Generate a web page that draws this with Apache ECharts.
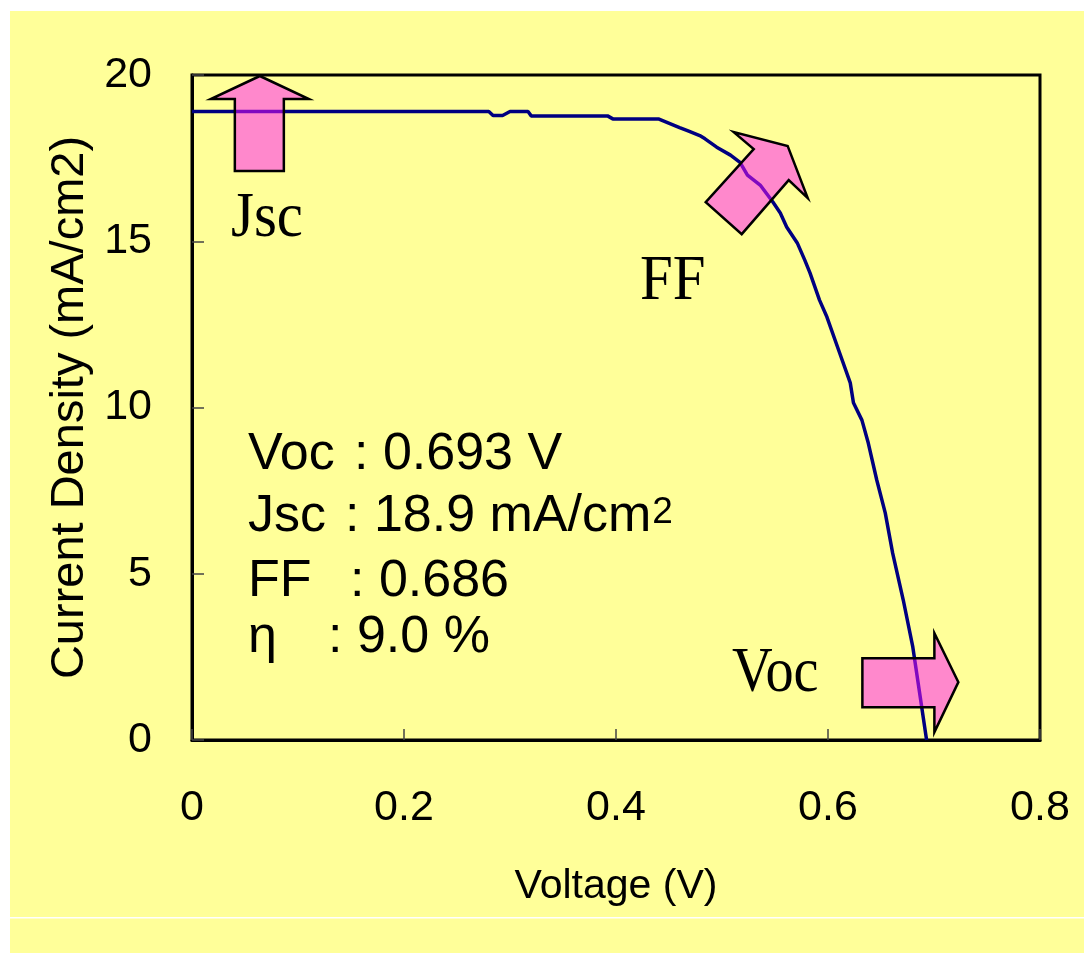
<!DOCTYPE html>
<html>
<head>
<meta charset="utf-8">
<script src="https://cdn.jsdelivr.net/npm/echarts@6/dist/echarts.min.js"></script>
<style>
  html, body { margin: 0; padding: 0; background: #ffffff; }
  #chart { width: 1084px; height: 953px; }
</style>
</head>
<body>
<div id="chart"></div>
<script>
// J-V curve of the solar cell (voltage in V, current density in mA/cm2)
const voltage = [0.000, 0.280, 0.284, 0.293, 0.300, 0.317, 0.320, 0.392, 0.397, 0.440, 0.460, 0.468, 0.479, 0.484, 0.495,
                 0.508, 0.517, 0.524, 0.536, 0.548, 0.555, 0.561, 0.571, 0.578, 0.583, 0.592, 0.599, 0.611, 0.621,
                 0.624, 0.632, 0.638, 0.646, 0.654, 0.661, 0.671, 0.680, 0.687, 0.693];
const currentDensity = [18.9, 18.9, 18.78, 18.78, 18.9, 18.9, 18.77, 18.77, 18.68, 18.68, 18.42, 18.32, 18.18, 18.08, 17.83,
                        17.59, 17.37, 16.99, 16.69, 16.18, 15.85, 15.43, 14.95, 14.44, 14.05, 13.23, 12.72, 11.64, 10.74,
                        10.14, 9.62, 8.93, 7.82, 6.83, 5.62, 4.21, 2.80, 1.29, 0.00];

// Axis settings
const xTicks = { min: 0, max: 0.8, interval: 0.2 };
const yTicks = { min: 0, max: 20, interval: 5 };

// Cell parameters shown in the text block
const paramNames = ['Voc', 'Jsc', 'FF', '\u03b7'];
const paramValues = [': 0.693 V', ': 18.9 mA/cm', ': 0.686', ': 9.0 %'];
const jscUnitSup = '2';

const sans = '"Liberation Sans", Arial, sans-serif';
const serif = '"Liberation Serif", "Times New Roman", serif';

const chart = echarts.init(document.getElementById('chart'), null, { renderer: 'canvas' });

const points = voltage.map((v, i) => [v, currentDensity[i]]);

// text helper: place a string by its baseline (bottom-aligned box, shifted by the descent)
function textAt(id, str, x, baseline, size, family, extra) {
  return Object.assign({
    type: 'text', id: id, z: 50, x: x, y: baseline + Math.round(size * 0.215),
    style: { text: str, font: size + 'px ' + family, fill: '#000', verticalAlign: 'bottom' }
  }, extra || {});
}

// Parameter block: name column + value column starting at the colon
const paramBaselines = [470, 532, 597, 653];
const paramColonX = [354, 345, 350, 328];
const paramGraphics = [];
paramNames.forEach((n, i) => {
  paramGraphics.push(textAt('pn' + i, n, 248, paramBaselines[i], 52, sans));
  paramGraphics.push(textAt('pv' + i, paramValues[i], paramColonX[i], paramBaselines[i], 52, sans));
});
// superscript "2" after mA/cm
const measureCtx = document.createElement('canvas').getContext('2d');
measureCtx.font = '52px ' + sans;
const supX = paramColonX[1] + measureCtx.measureText(paramValues[1]).width + 1;
paramGraphics.push(textAt('sup', jscUnitSup, supX, paramBaselines[1] - 9, 37, sans));

const option = {
  backgroundColor: '#ffffff',
  animation: false,
  grid: {
    left: 192, right: 44, top: 75, bottom: 213,
    show: true, borderColor: '#000', borderWidth: 3, backgroundColor: 'transparent'
  },
  xAxis: {
    type: 'value',
    min: xTicks.min, max: xTicks.max, interval: xTicks.interval,
    name: 'Voltage (V)', nameLocation: 'middle', nameGap: 126,
    nameTextStyle: { fontFamily: sans, fontSize: 41, color: '#000' },
    axisLine: { show: true, onZero: false, lineStyle: { color: '#000', width: 3 } },
    axisTick: { show: true, inside: true, length: 11, lineStyle: { color: '#444', width: 1.5 } },
    axisLabel: { margin: 47, fontFamily: sans, fontSize: 43, color: '#000' },
    splitLine: { show: false }
  },
  yAxis: {
    type: 'value',
    min: yTicks.min, max: yTicks.max, interval: yTicks.interval,
    name: 'Current Density (mA/cm2)', nameLocation: 'middle', nameGap: 97,
    nameTextStyle: { fontFamily: sans, fontSize: 47, color: '#000' },
    axisLine: { show: true, onZero: false, lineStyle: { color: '#000', width: 3 } },
    axisTick: { show: true, inside: true, length: 12, lineStyle: { color: '#444', width: 1.5 } },
    axisLabel: { margin: 40, fontFamily: sans, fontSize: 43, color: '#000' },
    splitLine: { show: false }
  },
  series: [{
    type: 'line',
    data: points,
    showSymbol: false,
    smooth: false,
    z: 3,
    lineStyle: { color: '#000080', width: 3.5 }
  }],
  graphic: {
    elements: [
      // yellow panel behind the chart, with the thin white rule near the bottom
      { type: 'rect', id: 'panel', z: -10, silent: true,
        shape: { x: 10, y: 11, width: 1074, height: 942 }, style: { fill: '#ffff99' } },
      { type: 'rect', id: 'rule', z: -9, silent: true,
        shape: { x: 10, y: 917, width: 1074, height: 1.5 }, style: { fill: '#ffffff' } },
      // callout words
      textAt('tJsc', 'Jsc', 231, 237, 64, serif, { scaleX: 0.92 }),
      textAt('tFF', 'FF', 640, 300, 64, serif, { scaleX: 0.92 }),
      textAt('tVoc', 'Voc', 732, 692, 64, serif, { scaleX: 0.88 })
    ].concat(paramGraphics)
  }
};

chart.setOption(option);

// Arrows: shape offsets (px) around a tip anchored at a data coordinate
const arrowFill = 'rgba(255,17,255,0.5)';
const arrows = [
  { id: 'aJsc', tip: [0.064, 19.97],
    pts: [[0, 0], [49, 23], [24, 23], [24, 95], [-25, 95], [-25, 23], [-49, 23]] },
  { id: 'aFF', tip: [0.562, 17.86],
    pts: [[0, 0], [20, 52], [1, 34], [-46, 88], [-82, 56], [-34, 3], [-54, -14]] },
  { id: 'aVoc', tip: [0.723, 1.74],
    pts: [[0, 0], [-24, 50], [-24, 25], [-96, 25], [-96, -24], [-24, -24], [-24, -49]] }
];
const arrowGraphics = arrows.map(a => {
  const p = chart.convertToPixel({ gridIndex: 0 }, a.tip);
  return {
    type: 'polygon', id: a.id, z: 40,
    shape: { points: a.pts.map(q => [p[0] + q[0], p[1] + q[1]]) },
    style: { fill: arrowFill, stroke: '#000', lineWidth: 2.5, lineJoin: 'miter' }
  };
});
chart.setOption({ graphic: { elements: arrowGraphics } });
</script>
</body>
</html>
